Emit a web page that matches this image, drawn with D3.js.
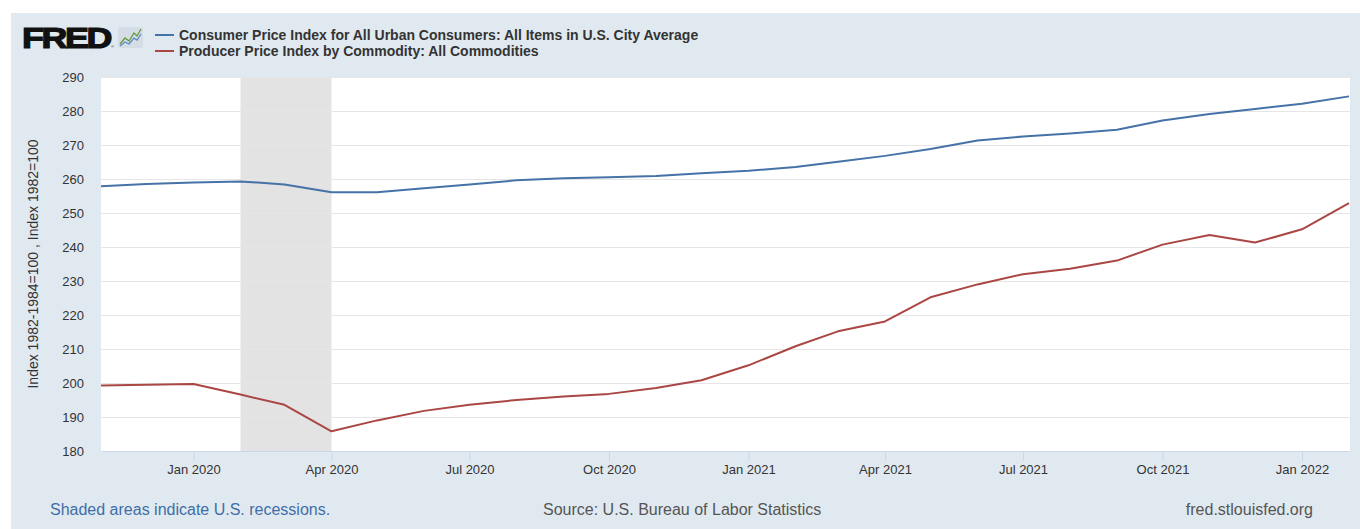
<!DOCTYPE html>
<html>
<head>
<meta charset="utf-8">
<script src="https://cdn.jsdelivr.net/npm/d3@7"></script>
<style>
  body { margin: 0; background: #fff; }
  svg { display: block; font-family: "Liberation Sans", Arial, sans-serif; }
</style>
</head>
<body>
<svg id="chart"></svg>
<script>
// monthly observations, Nov 2019 - Feb 2022
const months = [
  '2019-11-01', '2019-12-01', '2020-01-01', '2020-02-01', '2020-03-01', '2020-04-01',
  '2020-05-01', '2020-06-01', '2020-07-01', '2020-08-01', '2020-09-01', '2020-10-01',
  '2020-11-01', '2020-12-01', '2021-01-01', '2021-02-01', '2021-03-01', '2021-04-01',
  '2021-05-01', '2021-06-01', '2021-07-01', '2021-08-01', '2021-09-01', '2021-10-01',
  '2021-11-01', '2021-12-01', '2022-01-01', '2022-02-01'
];
const cpiValues = [
  257.9, 258.5, 259.0, 259.3, 258.4, 256.1, 256.1, 257.3, 258.4, 259.6, 260.2, 260.5,
  260.9, 261.7, 262.4, 263.5, 265.1, 266.8, 268.8, 271.3, 272.5, 273.4, 274.5, 277.2,
  279.1, 280.6, 282.1, 284.3
];
const ppiValues = [
  199.3, 199.5, 199.7, 196.6, 193.6, 185.8, 189.0, 191.8, 193.6, 195.0, 196.0, 196.8,
  198.5, 200.8, 205.2, 210.8, 215.2, 218.1, 225.2, 229.0, 232.0, 233.6, 236.0, 240.7,
  243.5, 241.3, 245.2, 252.9
];
const yTicks = [180, 190, 200, 210, 220, 230, 240, 250, 260, 270, 280, 290];
const recession = ['2020-02-01', '2020-04-01'];

const seriesNames = [
  'Consumer Price Index for All Urban Consumers: All Items in U.S. City Average',
  'Producer Price Index by Commodity: All Commodities'
];
const seriesColors = ['#4572a7', '#aa4643'];

const w = 1360, h = 529;
const plot = { left: 101, right: 1349, top: 77, bottom: 451 };
const parseDate = d3.timeParse('%Y-%m-%d');

const dates = months.map(parseDate);
const series = [cpiValues, ppiValues].map((vals) =>
  vals.map((v, i) => ({ date: dates[i], value: v })));

const svg = d3.select('#chart')
  .attr('width', w)
  .attr('height', h);

// light blue panel behind everything
svg.append('rect')
  .attr('x', 11).attr('y', 13)
  .attr('width', w - 11).attr('height', h - 13)
  .attr('fill', '#e1e9f0');

let xScale = d3.scaleTime()
  .domain(d3.extent(dates))
  .range([plot.left, plot.right]);

let yScale = d3.scaleLinear()
  .domain([180, 290])
  .range([plot.bottom, plot.top]);

// white plotting area
svg.append('rect')
  .attr('x', plot.left).attr('y', plot.top)
  .attr('width', plot.right - plot.left + 1)
  .attr('height', plot.bottom - plot.top)
  .attr('fill', '#fff');

// recession shading
svg.append('rect')
  .attr('x', xScale(parseDate(recession[0])))
  .attr('y', plot.top)
  .attr('width', xScale(parseDate(recession[1])) - xScale(parseDate(recession[0])))
  .attr('height', plot.bottom - plot.top)
  .attr('fill', '#e3e3e3');

// y axis with gridlines
let yAxis = d3.axisLeft(yScale)
  .tickValues(yTicks)
  .tickSize(-(plot.right - plot.left + 1))
  .tickPadding(17);

let yAxisGroup = svg.append('g')
  .attr('transform', `translate(${plot.left}, 0)`)
  .call(yAxis);
yAxisGroup.select('.domain').remove();
yAxisGroup.selectAll('line')
  .attr('stroke', '#e6e6e6');
yAxisGroup.selectAll('text')
  .attr('fill', '#333')
  .style('font-size', '13px');

// x axis
let xAxis = d3.axisBottom(xScale)
  .ticks(d3.timeMonth.every(3))
  .tickFormat(d3.timeFormat('%b %Y'))
  .tickSizeInner(10)
  .tickSizeOuter(0)
  .tickPadding(4);

let xAxisGroup = svg.append('g')
  .attr('transform', `translate(0, ${plot.bottom})`)
  .call(xAxis);
xAxisGroup.select('.domain')
  .attr('stroke', '#ccd6eb');
xAxisGroup.selectAll('line')
  .attr('stroke', '#ccd6eb');
xAxisGroup.selectAll('text')
  .attr('fill', '#333')
  .style('font-size', '13px');

// series lines
let line = d3.line()
  .x((d) => xScale(d.date))
  .y((d) => yScale(d.value));

svg.selectAll('path.series')
  .data(series)
  .enter()
  .append('path')
  .attr('class', 'series')
  .attr('d', line)
  .attr('fill', 'none')
  .attr('stroke', (d, i) => seriesColors[i])
  .attr('stroke-width', 2)
  .attr('stroke-linejoin', 'round');

// y axis title
svg.append('text')
  .attr('transform', `translate(38, ${(plot.top + plot.bottom) / 2}) rotate(-90)`)
  .attr('text-anchor', 'middle')
  .attr('fill', '#333')
  .style('font-size', '14px')
  .text('Index 1982-1984=100 , Index 1982=100');

// FRED logo - heavy, squeezed letters
let logo = svg.append('g');
logo.append('text')
  .attr('x', 22).attr('y', 48)
  .attr('textLength', 88)
  .attr('lengthAdjust', 'spacingAndGlyphs')
  .attr('fill', '#111')
  .attr('stroke', '#111')
  .attr('stroke-width', 1.2)
  .style('font-size', '30px')
  .style('font-weight', 'bold')
  .style('letter-spacing', '-2px')
  .text('FRED');
logo.append('text')
  .attr('x', 111).attr('y', 48)
  .attr('fill', '#333')
  .style('font-size', '4px')
  .text('®');
logo.append('rect')
  .attr('x', 118).attr('y', 27)
  .attr('width', 25).attr('height', 21)
  .attr('rx', 2)
  .attr('fill', '#d4dde6');
logo.append('polyline')
  .attr('points', '120,44 125,38 129,41 134,33 137,36 141,29')
  .attr('fill', 'none').attr('stroke', '#6a9a3c').attr('stroke-width', 1.3);
logo.append('polyline')
  .attr('points', '120,46 125,42 129,44 134,38 137,40 141,34')
  .attr('fill', 'none').attr('stroke', '#5a8ac6').attr('stroke-width', 1.3);

// legend
let legend = svg.selectAll('g.legend')
  .data(seriesNames)
  .enter()
  .append('g')
  .attr('class', 'legend')
  .attr('transform', (d, i) => `translate(155, ${35 + i * 16})`);
legend.append('line')
  .attr('x1', 0).attr('x2', 19)
  .attr('stroke', (d, i) => seriesColors[i])
  .attr('stroke-width', 2);
legend.append('text')
  .attr('x', 24).attr('y', 5)
  .attr('fill', '#333')
  .style('font-size', '14px')
  .style('font-weight', 'bold')
  .text((d) => d);

// footer
svg.append('text')
  .attr('x', 50).attr('y', 515)
  .attr('fill', '#3e6ea8')
  .style('font-size', '16px')
  .text('Shaded areas indicate U.S. recessions.');
svg.append('text')
  .attr('x', 543).attr('y', 515)
  .attr('fill', '#555')
  .style('font-size', '16px')
  .text('Source: U.S. Bureau of Labor Statistics');
svg.append('text')
  .attr('x', 1313).attr('y', 515)
  .attr('text-anchor', 'end')
  .attr('fill', '#555')
  .style('font-size', '16px')
  .text('fred.stlouisfed.org');
</script>
</body>
</html>
